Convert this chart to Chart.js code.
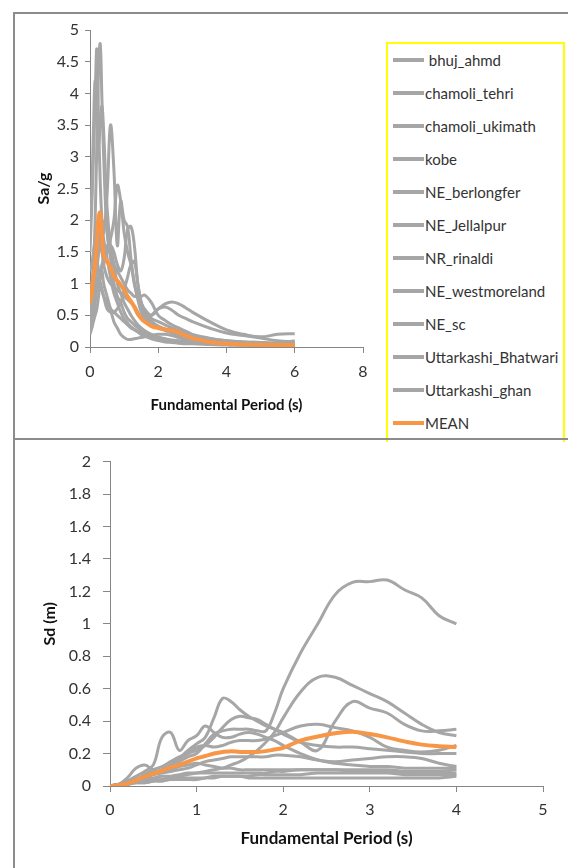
<!DOCTYPE html>
<html><head><meta charset="utf-8">
<script src="https://cdn.jsdelivr.net/npm/chart.js@4.4.0/dist/chart.umd.min.js"></script>
<style>
html,body{margin:0;padding:0;background:#fff;}
body{width:568px;height:868px;position:relative;overflow:hidden;font-family:Lato,sans-serif;}
#f1{position:absolute;left:13px;top:12px;width:600px;height:426px;border-left:2px solid #8c8c8c;border-top:2px solid #8c8c8c;}
#f2{position:absolute;left:13px;top:438px;width:600px;height:500px;border-left:2px solid #8c8c8c;border-top:2px solid #8c8c8c;z-index:2;}
#w1{position:absolute;left:0;top:0;width:386px;height:438px;}
#w2{position:absolute;left:0;top:440px;width:568px;height:428px;}
#legend{position:absolute;left:386px;top:42px;width:175px;height:398px;border:2px solid #ffff00;border-bottom:none;background:#fff;overflow:hidden;z-index:1;}
.li{position:absolute;left:0;height:20px;width:175px;}
.ls{position:absolute;left:5px;top:8px;width:31px;height:4px;}
.lt{position:absolute;left:37px;top:0;font-size:15px;line-height:20px;color:#333;white-space:pre;}
</style></head>
<body>
<div id="f1"></div>
<div id="f2"></div>
<div id="w1"><canvas id="c1" width="386" height="438"></canvas></div>
<div id="w2"><canvas id="c2" width="568" height="428"></canvas></div>
<div id="legend"></div>
<script>
// ---------- DATA ----------
const seriesNames = [' bhuj_ahmd','chamoli_tehri','chamoli_ukimath','kobe','NE_berlongfer','NE_Jellalpur','NR_rinaldi','NE_westmoreland','NE_sc','Uttarkashi_Bhatwari','Uttarkashi_ghan'];
const meanName = 'MEAN';

// Top chart: Sa/g vs period
const periodSa = [0,0.05,0.1,0.15,0.2,0.25,0.3,0.35,0.4,0.5,0.6,0.7,0.8,0.9,1.0,1.1,1.2,1.3,1.4,1.5,1.6,1.8,2.0,2.2,2.4,2.6,2.8,3.0,3.5,4.0,4.5,5.0,5.5,6.0];
const sa_bhuj_ahmd       = [0.3,0.6,1.2,2.0,3.2,4.4,4.78,3.9,3.0,1.8,1.4,1.0,0.8,0.7,0.55,0.45,0.4,0.35,0.3,0.25,0.22,0.18,0.14,0.12,0.1,0.09,0.08,0.07,0.05,0.04,0.03,0.03,0.02,0.02];
const sa_chamoli_tehri   = [1.5,2.2,3.0,3.9,4.7,3.6,2.6,2.0,1.7,1.4,1.1,0.85,0.7,0.55,0.45,0.38,0.32,0.28,0.24,0.2,0.17,0.13,0.1,0.08,0.07,0.06,0.05,0.05,0.04,0.03,0.03,0.02,0.02,0.02];
const sa_chamoli_ukimath = [1.9,2.4,3.4,4.2,3.6,3.2,3.5,3.8,3.4,2.2,1.6,1.3,1.0,0.85,0.7,0.6,0.5,0.42,0.35,0.3,0.26,0.2,0.16,0.13,0.11,0.1,0.09,0.08,0.06,0.05,0.04,0.03,0.03,0.03];
const sa_kobe            = [0.35,0.5,0.8,1.0,1.2,1.5,1.9,2.0,1.8,2.4,3.5,2.8,1.6,2.3,2.0,1.9,1.4,1.0,0.8,0.7,0.6,0.5,0.6,0.68,0.71,0.68,0.62,0.55,0.4,0.27,0.2,0.16,0.2,0.21];
const sa_NE_berlongfer   = [0.3,0.4,0.6,0.8,1.0,1.1,1.2,1.3,1.4,1.5,1.7,2.0,2.55,2.3,1.8,1.5,1.3,1.0,0.75,0.55,0.45,0.35,0.3,0.26,0.22,0.19,0.16,0.14,0.1,0.07,0.06,0.05,0.04,0.04];
const sa_NE_Jellalpur    = [0.2,0.3,0.5,0.7,0.9,1.05,1.2,1.25,1.3,1.5,1.6,1.5,1.3,1.2,1.4,1.85,1.9,1.6,1.0,0.7,0.55,0.45,0.4,0.35,0.3,0.26,0.22,0.19,0.13,0.1,0.08,0.07,0.06,0.05];
const sa_NR_rinaldi      = [1.2,1.3,1.5,1.7,1.9,1.8,1.6,1.5,1.5,1.6,1.5,1.3,1.2,1.1,1.0,0.9,0.85,0.8,0.8,0.8,0.82,0.7,0.5,0.42,0.35,0.3,0.25,0.2,0.14,0.1,0.08,0.07,0.06,0.05];
const sa_NE_westmoreland = [0.9,1.0,1.1,1.2,1.3,1.5,1.6,1.5,1.3,1.1,1.0,0.95,0.9,0.85,0.8,0.75,0.7,0.65,0.55,0.45,0.42,0.5,0.6,0.63,0.58,0.5,0.45,0.4,0.3,0.22,0.18,0.14,0.1,0.08];
const sa_NE_sc           = [0.25,0.3,0.4,0.5,0.6,0.8,1.0,0.9,0.8,0.6,0.55,0.55,0.6,0.7,0.9,1.1,1.3,1.35,1.0,0.7,0.5,0.4,0.33,0.28,0.24,0.2,0.17,0.15,0.1,0.08,0.06,0.05,0.05,0.04];
const sa_Utt_Bhatwari    = [0.6,0.9,1.3,1.5,1.4,1.2,1.0,0.9,0.8,0.7,0.6,0.55,0.5,0.45,0.4,0.35,0.3,0.27,0.24,0.2,0.18,0.14,0.12,0.1,0.09,0.08,0.07,0.06,0.05,0.04,0.03,0.03,0.03,0.03];
const sa_Utt_ghan        = [0.5,0.6,0.9,1.1,1.0,0.9,1.1,1.2,1.0,0.8,0.6,0.4,0.3,0.2,0.15,0.12,0.12,0.13,0.14,0.15,0.16,0.18,0.2,0.2,0.18,0.15,0.12,0.1,0.07,0.06,0.05,0.05,0.06,0.1];
const sa_MEAN            = [0.69,0.85,1.1,1.3,1.65,2.05,2.12,1.75,1.45,1.35,1.25,1.12,1.05,0.98,0.9,0.8,0.72,0.63,0.52,0.45,0.4,0.33,0.3,0.28,0.26,0.23,0.18,0.14,0.08,0.05,0.04,0.035,0.03,0.03];

// Bottom chart: Sd (m) vs period
const periodSd = [0,0.1,0.2,0.3,0.4,0.5,0.6,0.7,0.8,0.9,1.0,1.1,1.2,1.3,1.4,1.5,1.6,1.7,1.8,1.9,2.0,2.2,2.4,2.6,2.8,3.0,3.2,3.4,3.6,3.8,4.0];
const sd_bhuj_ahmd       = [0,0.01,0.05,0.11,0.13,0.1,0.09,0.1,0.12,0.13,0.14,0.13,0.12,0.11,0.11,0.1,0.1,0.1,0.1,0.1,0.1,0.1,0.1,0.1,0.1,0.1,0.1,0.09,0.09,0.09,0.1];
const sd_chamoli_tehri   = [0,0.01,0.02,0.03,0.04,0.04,0.04,0.05,0.05,0.05,0.05,0.05,0.06,0.06,0.06,0.06,0.05,0.05,0.05,0.05,0.05,0.05,0.05,0.05,0.05,0.05,0.05,0.05,0.05,0.05,0.06];
const sd_chamoli_ukimath = [0,0.01,0.02,0.04,0.06,0.07,0.08,0.09,0.1,0.11,0.13,0.15,0.16,0.17,0.18,0.18,0.18,0.18,0.18,0.19,0.19,0.18,0.16,0.15,0.16,0.17,0.18,0.18,0.17,0.14,0.12];
const sd_kobe            = [0,0.01,0.02,0.04,0.06,0.08,0.1,0.12,0.15,0.18,0.2,0.26,0.32,0.34,0.35,0.35,0.35,0.34,0.34,0.45,0.6,0.82,1.0,1.18,1.255,1.26,1.27,1.21,1.16,1.05,1.0];
const sd_NE_berlongfer   = [0,0.01,0.03,0.06,0.09,0.13,0.3,0.33,0.22,0.28,0.31,0.37,0.33,0.3,0.3,0.32,0.33,0.32,0.3,0.28,0.25,0.2,0.16,0.14,0.13,0.12,0.12,0.11,0.11,0.11,0.11];
const sd_NE_Jellalpur    = [0,0.01,0.02,0.04,0.06,0.08,0.1,0.13,0.17,0.22,0.26,0.3,0.42,0.54,0.52,0.47,0.43,0.4,0.37,0.35,0.33,0.27,0.22,0.4,0.52,0.48,0.45,0.38,0.34,0.34,0.35];
const sd_NR_rinaldi      = [0,0.01,0.02,0.03,0.05,0.07,0.1,0.13,0.17,0.2,0.22,0.25,0.3,0.36,0.41,0.43,0.42,0.41,0.38,0.35,0.32,0.27,0.25,0.24,0.24,0.23,0.22,0.21,0.2,0.2,0.2];
const sd_NE_westmoreland = [0,0.01,0.01,0.02,0.02,0.03,0.04,0.05,0.06,0.07,0.08,0.09,0.1,0.11,0.13,0.15,0.18,0.22,0.27,0.33,0.42,0.58,0.67,0.67,0.62,0.57,0.52,0.45,0.38,0.33,0.31];
const sd_NE_sc           = [0,0.01,0.02,0.04,0.07,0.1,0.12,0.15,0.18,0.2,0.24,0.25,0.24,0.25,0.27,0.28,0.28,0.28,0.29,0.31,0.33,0.37,0.38,0.36,0.34,0.3,0.24,0.22,0.21,0.22,0.25];
const sd_Utt_Bhatwari    = [0,0.01,0.02,0.03,0.04,0.05,0.06,0.06,0.07,0.08,0.08,0.08,0.08,0.08,0.08,0.08,0.08,0.08,0.08,0.09,0.09,0.1,0.1,0.1,0.09,0.09,0.09,0.08,0.08,0.08,0.08];
const sd_Utt_ghan        = [0,0,0.01,0.02,0.02,0.03,0.03,0.04,0.04,0.04,0.04,0.05,0.05,0.06,0.06,0.06,0.06,0.07,0.07,0.07,0.07,0.07,0.08,0.08,0.08,0.08,0.08,0.07,0.07,0.07,0.07];
const sd_MEAN            = [0,0.005,0.015,0.035,0.06,0.075,0.095,0.115,0.13,0.15,0.17,0.185,0.2,0.21,0.215,0.21,0.21,0.21,0.215,0.225,0.235,0.28,0.305,0.325,0.335,0.32,0.3,0.275,0.255,0.245,0.24];

const saTicksX = [0,2,4,6,8];
const saTicksY = [0,0.5,1,1.5,2,2.5,3,3.5,4,4.5,5];
const sdTicksX = [0,1,2,3,4,5];
const sdTicksY = [0,0.2,0.4,0.6,0.8,1,1.2,1.4,1.6,1.8,2];

const saSeries = [sa_bhuj_ahmd,sa_chamoli_tehri,sa_chamoli_ukimath,sa_kobe,sa_NE_berlongfer,sa_NE_Jellalpur,sa_NR_rinaldi,sa_NE_westmoreland,sa_NE_sc,sa_Utt_Bhatwari,sa_Utt_ghan];
const sdSeries = [sd_bhuj_ahmd,sd_chamoli_tehri,sd_chamoli_ukimath,sd_kobe,sd_NE_berlongfer,sd_NE_Jellalpur,sd_NR_rinaldi,sd_NE_westmoreland,sd_NE_sc,sd_Utt_Bhatwari,sd_Utt_ghan];

// ---------- STYLE ----------
const GRAY = '#A6A6A6', ORANGE = '#F79646', AXIS = '#868686', TXT = '#333333';
Chart.defaults.font.family = 'Lato, sans-serif';
Chart.defaults.animation = false;

function fmt(v){ return String(Math.round(v*10)/10); }

function build(xs, series, mean){
  const ds = series.map((vals,i)=>({
    label: seriesNames[i],
    data: xs.map((x,j)=>({x:x, y:vals[j]})),
    borderColor: GRAY, backgroundColor: GRAY, borderWidth: 3,
    pointRadius: 0, showLine: true, tension: 0.4, fill: false, order: 1
  }));
  ds.push({
    label: meanName,
    data: xs.map((x,j)=>({x:x, y:mean[j]})),
    borderColor: ORANGE, backgroundColor: ORANGE, borderWidth: 4,
    pointRadius: 0, showLine: true, tension: 0.4, fill: false, order: 0
  });
  return ds;
}

function axis(o){
  return {
    type:'linear', min:o.min, max:o.max,
    afterBuildTicks: s => { s.ticks = o.ticks.map(v=>({value:v})); },
    afterFit: s => { if (o.w) s.width = o.w; if (o.h) s.height = o.h; },
    ticks:{ color:TXT, font:{size:16}, padding:o.pad, callback: v => fmt(v), autoSkip:false, maxRotation:0 },
    grid:{ drawOnChartArea:false, drawTicks:true, tickLength:o.tl, color:AXIS, lineWidth:1 },
    border:{ color:AXIS, width:1 },
    title:{ display:true, text:o.title, color:'#111', font:{size:o.tsize, weight:'bold'}, padding:o.tpad }
  };
}

new Chart(document.getElementById('c1'), {
  type:'scatter',
  data:{ datasets: build(periodSa, saSeries, sa_MEAN) },
  options:{
    responsive:false, animation:false,
    layout:{ padding:{left:0, top:30, right:23, bottom:0} },
    plugins:{ legend:{display:false}, tooltip:{enabled:false} },
    scales:{
      x: axis({min:0,max:8,ticks:saTicksX,h:91,pad:9,tl:6,title:'Fundamental Period (s)',tsize:15,tpad:{top:0,bottom:24}}),
      y: axis({min:0,max:5,ticks:saTicksY,w:90,pad:6,tl:5,title:'Sa/g',tsize:16,tpad:{top:34,bottom:0}})
    }
  }
});

new Chart(document.getElementById('c2'), {
  type:'scatter',
  data:{ datasets: build(periodSd, sdSeries, sd_MEAN) },
  options:{
    responsive:false, animation:false,
    layout:{ padding:{left:0, top:21, right:25, bottom:0} },
    plugins:{ legend:{display:false}, tooltip:{enabled:false} },
    scales:{
      x: axis({min:0,max:5,ticks:sdTicksX,h:82,pad:8,tl:6,title:'Fundamental Period (s)',tsize:17,tpad:{top:0,bottom:19}}),
      y: axis({min:0,max:2,ticks:sdTicksY,w:110,pad:12,tl:7,title:'Sd (m)',tsize:16,tpad:{top:40,bottom:0}})
    }
  }
});

// HTML legend built from the series names
const lg = document.getElementById('legend');
const names = seriesNames.concat([meanName]);
names.forEach((n,i)=>{
  const it = document.createElement('div'); it.className='li'; it.style.top = (6 + 33*i) + 'px';
  const sw = document.createElement('div'); sw.className='ls'; sw.style.background = (n===meanName)?ORANGE:GRAY;
  const tx = document.createElement('div'); tx.className='lt'; tx.textContent = n;
  it.appendChild(sw); it.appendChild(tx); lg.appendChild(it);
});
</script>
</body></html>
